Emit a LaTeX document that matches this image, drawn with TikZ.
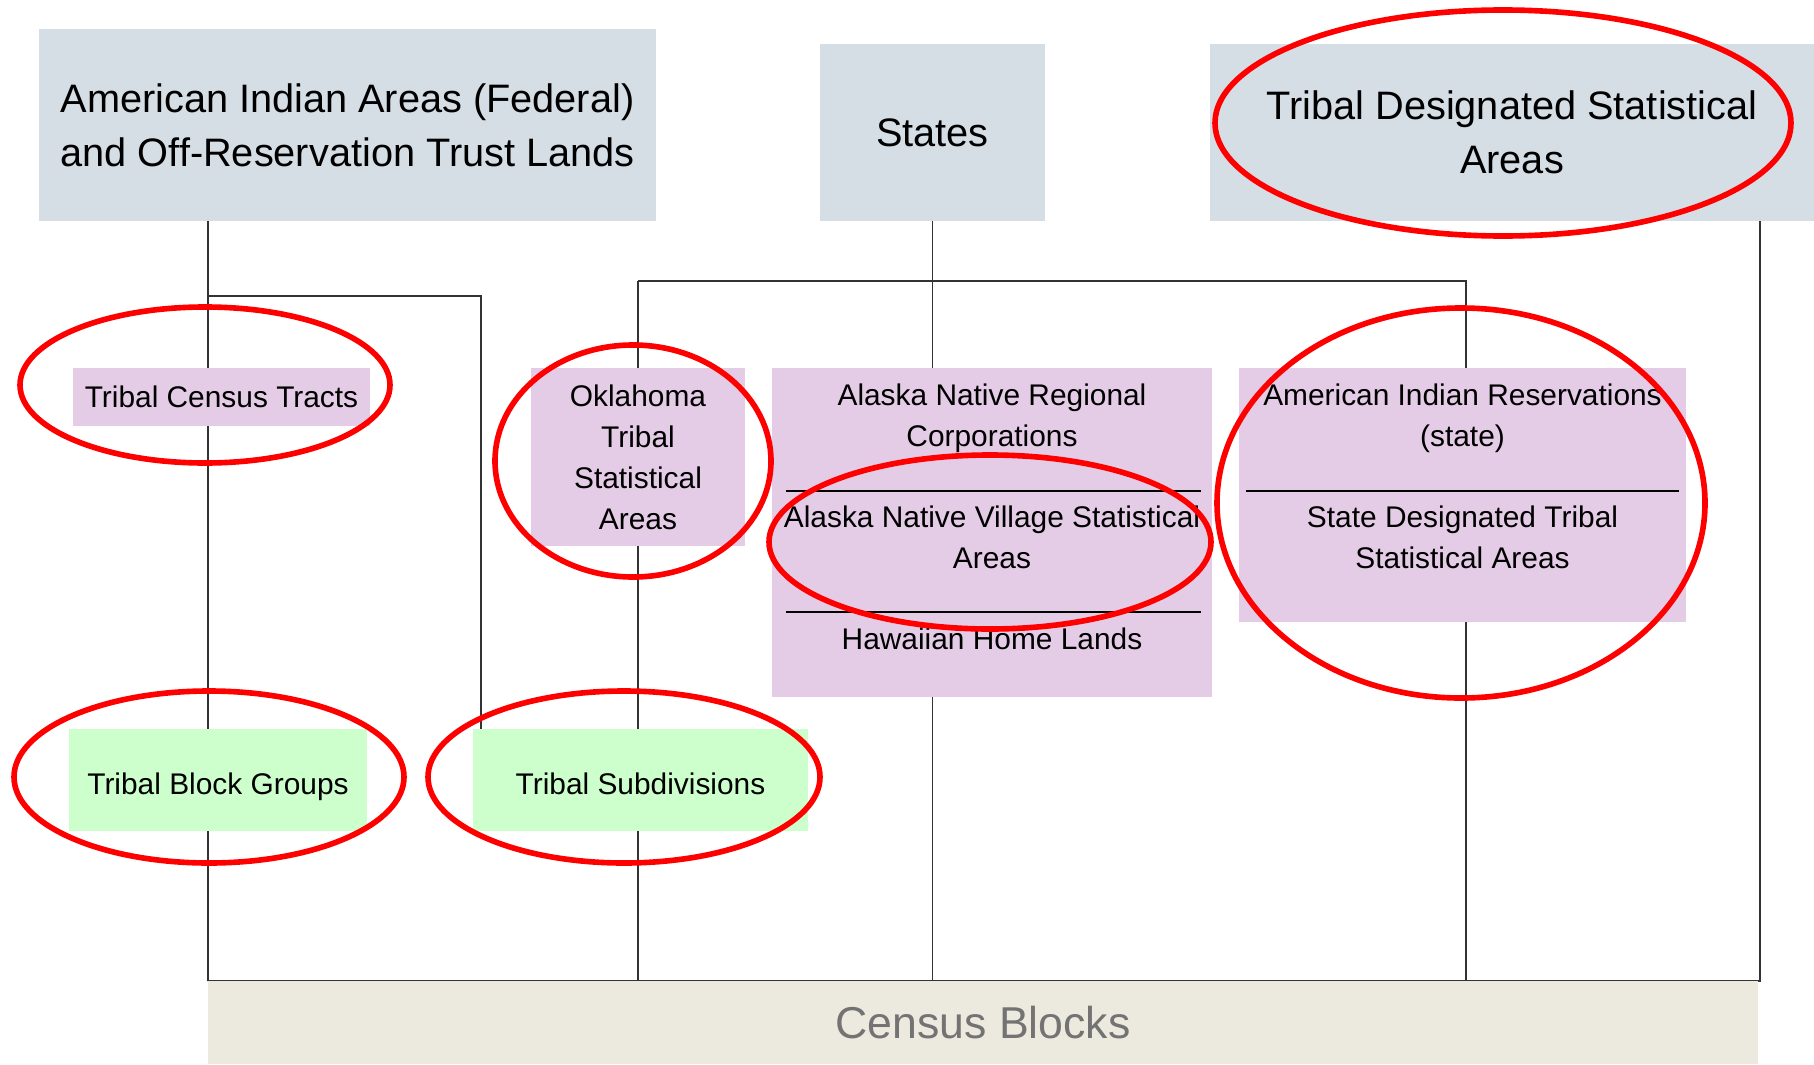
\documentclass[tikz,border=0pt]{standalone}
\usepackage{fontspec}
\setmainfont{Liberation Sans}
\usepackage{xcolor}
\usetikzlibrary{backgrounds}

\definecolor{azulcinza}{RGB}{213,221,229}
\definecolor{lilas}{RGB}{229,204,230}
\definecolor{verdeclaro}{RGB}{204,255,204}
\definecolor{bege}{RGB}{236,234,223}

\begin{document}
\begin{tikzpicture}[x=0.1mm, y=-0.1mm,
  caixa/.style={fill=azulcinza, inner sep=0pt, outer sep=0pt, align=center,
    font=\fontsize{11.3}{15.4}\selectfont},
  roxa/.style={fill=lilas, inner sep=0pt, outer sep=0pt, align=center,
    font=\fontsize{8.5}{11.7}\selectfont},
  verde/.style={fill=verdeclaro, inner sep=0pt, outer sep=0pt, align=center,
    text height=10.3pt, text depth=1.8pt, font=\fontsize{8.5}{11.7}\selectfont},
  texto/.style={inner sep=0pt, align=center, font=\fontsize{8.5}{11.7}\selectfont},
  linha/.style={draw=black!80, line width=0.55pt},
  marca/.style={draw=red, line width=1.6pt}]

  \useasboundingbox (0,0) rectangle (1814,1064);

  % Caixas do topo
  \node[caixa, minimum width=61.7mm, minimum height=19.2mm] (aia) at (347.5,125)
    {American Indian Areas (Federal)\\and Off-Reservation Trust Lands};
  \node[caixa, minimum width=22.5mm, minimum height=17.7mm] (st) at (932.5,132.5) {States};
  \node[caixa, minimum width=60.4mm, minimum height=17.7mm] (tdsa) at (1512,132.5)
    {Tribal Designated Statistical\\Areas};

  % Caixas do meio
  \node[roxa, minimum width=29.7mm, minimum height=5.8mm] (tct) at (221.5,397) {Tribal Census Tracts};
  \node[roxa, minimum width=21.4mm, minimum height=17.8mm] (otsa) at (638,457)
    {Oklahoma\\Tribal\\Statistical\\Areas};
  \node[roxa, minimum width=44mm, minimum height=32.9mm] (ak) at (992,532.5) {};
  \node[roxa, minimum width=44.7mm, minimum height=25.4mm] (air) at (1462.5,495) {};

  % Textos das caixas compostas
  \node[texto] (akreg) at (992,418) {Alaska Native Regional\\Corporations};
  \node[texto] (akvil) at (992,537) {Alaska Native Village Statistical\\Areas};
  \node[texto] (hhl) at (992,639) {Hawaiian Home Lands};
  \node[texto] (airs) at (1462.5,418) {American Indian Reservations\\(state)};
  \node[texto] (sdtsa) at (1462.5,537) {State Designated Tribal\\Statistical Areas};
  \draw[line width=0.6pt] (786,491) -- (1201,491);
  \draw[line width=0.6pt] (786,612) -- (1201,612);
  \draw[line width=0.6pt] (1246,491) -- (1679,491);

  % Caixas de baixo
  \node[verde, minimum width=29.8mm, minimum height=10.2mm] (tbg) at (218,780) {Tribal Block Groups};
  \node[verde, minimum width=33.5mm, minimum height=10.2mm] (ts) at (640.5,780) {Tribal Subdivisions};
  \node[fill=bege, inner sep=0pt, outer sep=0pt, minimum width=155mm, minimum height=8.3mm,
    text=black!55, font=\fontsize{12.7}{15}\selectfont] (cb) at (983,1022.5) {Census Blocks};

  % Pontos de junção
  \coordinate (ja) at (208,296);
  \coordinate (jb) at (481,296);
  \coordinate (jc) at (638,281);
  \coordinate (jd) at (1466,281);
  \coordinate (je) at (1760,981);

  % Ligações
  \begin{scope}[on background layer]
    \draw[linha] (aia.south -| ja) -- (cb.north west);
    \draw[linha] (ja) -- (jb) -- (ts.north -| jb);
    \draw[linha] (jc) -- (jd) -- (air.north -| jd);
    \draw[linha] (jc) -- (cb.north -| jc);
    \draw[linha] (air.south -| jd) -- (cb.north -| jd);
    \draw[linha] (st.south) -- (st.south |- ak.north);
    \draw[linha] (ak.south -| st.south) -- (cb.north -| st.south);
    \draw[linha] (tdsa.south -| je) -- (je) -- (cb.north west);
  \end{scope}

  % Marcas vermelhas
  \draw[marca] (1503,123) ellipse [x radius=288, y radius=113];
  \draw[marca] (205,385) ellipse [x radius=185, y radius=78];
  \draw[marca] (633,461) ellipse [x radius=138, y radius=116];
  \draw[marca] (990,542) ellipse [x radius=221, y radius=87];
  \draw[marca] (1461,503) ellipse [x radius=244, y radius=195];
  \draw[marca] (209,777) ellipse [x radius=195, y radius=86];
  \draw[marca] (624,777) ellipse [x radius=196, y radius=86];

\end{tikzpicture}
\end{document}
